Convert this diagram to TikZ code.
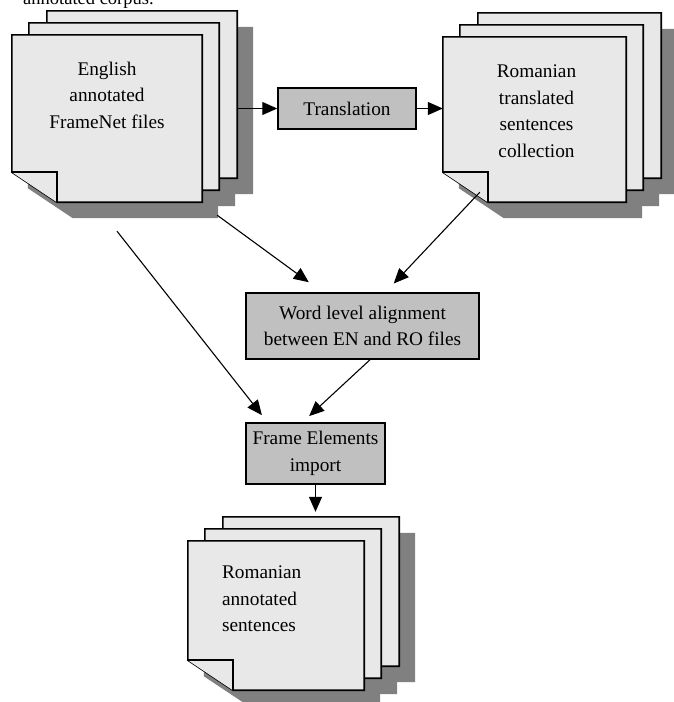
\documentclass[tikz,border=0pt]{standalone}
\usepackage{fontspec}
\setmainfont{Liberation Serif}
\usepackage{tikz}
\usetikzlibrary{arrows.meta,positioning,calc}
\definecolor{PageGray}{HTML}{E8E8E8}
\definecolor{BoxGray}{HTML}{C0C0C0}
\definecolor{ShadowGray}{HTML}{808080}
\tikzset{
  % Sheet frame (outline is drawn by \docsheet)
  sheet/.style 2 args={rectangle,inner sep=0pt,
             minimum width=#1,minimum height=#2},
  % Sheet outline
  SH/.style={fill=PageGray,draw=black,line width=1.6pt,line join=miter},
  % Process box
  box/.style={rectangle,draw,line width=1.5pt,fill=BoxGray,
             inner sep=0pt,text centered,align=center},
  % Text on a sheet
  txt/.style={inner sep=0pt,align=center},
  % Arrow
  arr/.style={-{Triangle[length=15pt,width=13pt]},line width=1.1pt}
}
% shadow and outline of one sheet with a turned corner
\newcommand{\docshadow}[1]{%
  \fill[ShadowGray,transform canvas={xshift=16pt,yshift=-16pt}]
    (#1.north west) -- (#1.north east) -- (#1.south east)
    -- ([xshift=45pt]#1.south west) -- ([yshift=30pt]#1.south west) -- cycle;}
\newcommand{\docsheet}[1]{%
  \filldraw[SH] (#1.north west) -- (#1.north east) -- (#1.south east)
    -- ([xshift=45pt]#1.south west) -- ([yshift=30pt]#1.south west) -- cycle;
  \draw[SH] ([yshift=30pt]#1.south west) -- ([xshift=45pt,yshift=30pt]#1.south west)
    -- ([xshift=45pt]#1.south west);}

\begin{document}
\begin{tikzpicture}[x=1pt,y=-1pt,font=\fontsize{19.3}{26.5}\selectfont]
  \useasboundingbox (0,0) rectangle (673,702);
  \node[anchor=base west,inner sep=0pt,font=\fontsize{18.5}{22}\selectfont] (cap) at (23,4) {annotated corpus.};

  % English stack
  \node[sheet={190pt}{167pt}] (en) at (107,118.5) {};
  \node[sheet={190pt}{167pt},xshift=17pt,yshift=12pt] (en-m) at (en) {};
  \node[sheet={190pt}{167pt},xshift=35pt,yshift=24pt] (en-b) at (en) {};
  \docshadow{en-b}\docshadow{en-m}\docshadow{en}
  \docsheet{en-b}\docsheet{en-m}\docsheet{en}
  \node[txt,below=27pt of en.north] (en-txt) {English\\annotated\\FrameNet files};

  % Romanian translated stack
  \node[sheet={183pt}{165pt}] (rt) at (534.5,119.5) {};
  \node[sheet={183pt}{165pt},xshift=17pt,yshift=12pt] (rt-m) at (rt) {};
  \node[sheet={183pt}{165pt},xshift=35pt,yshift=24pt] (rt-b) at (rt) {};
  \docshadow{rt-b}\docshadow{rt-m}\docshadow{rt}
  \docsheet{rt-b}\docsheet{rt-m}\docsheet{rt}
  \node[txt,below=28pt of rt.north,xshift=2pt] (rt-txt) {Romanian\\translated\\sentences\\collection};

  % Romanian annotated stack
  \node[sheet={176pt}{149pt}] (ra) at (276,615.5) {};
  \node[sheet={176pt}{149pt},xshift=17pt,yshift=12pt] (ra-m) at (ra) {};
  \node[sheet={176pt}{149pt},xshift=35pt,yshift=24pt] (ra-b) at (ra) {};
  \docshadow{ra-b}\docshadow{ra-m}\docshadow{ra}
  \docsheet{ra-b}\docsheet{ra-m}\docsheet{ra}
  \node[txt,align=left,below right=25pt and 34pt of ra.north west] (ra-txt) {Romanian\\annotated\\sentences};

  % Process boxes
  \node[box,minimum width=138pt,minimum height=41pt] (trans) at (347,108.5) {Translation};
  \node[box,minimum width=233pt,minimum height=66pt] (align) at (362.5,326) {Word level alignment\\between EN and RO files};
  \node[box,minimum width=139pt,minimum height=61pt] (fe) at (315.5,453.5) {Frame Elements\\import};

  \draw[arr] (trans.west -| en-b.east) -- (trans.west);
  \draw[arr] (trans.east) -- (trans.east -| rt.west);
  \draw[arr,shorten >=17pt] ([shift={(15pt,-13pt)}]en.south east) -- ([xshift=-40pt]align.north);
  \draw[arr,shorten >=12pt] ([shift={(37pt,10pt)}]rt.south west) -- ([xshift=23pt]align.north);
  \draw[arr,shorten >=9pt] ([shift={(10pt,-29pt)}]en.south) -- ([xshift=-48pt]fe.north);
  \draw[arr,shorten >=9pt] ([xshift=7.5pt]align.south) -- ([xshift=-13pt]fe.north);
  \draw[arr,shorten >=5pt] (fe.south) -- (fe.south |- ra-b.north);
\end{tikzpicture}
\end{document}
